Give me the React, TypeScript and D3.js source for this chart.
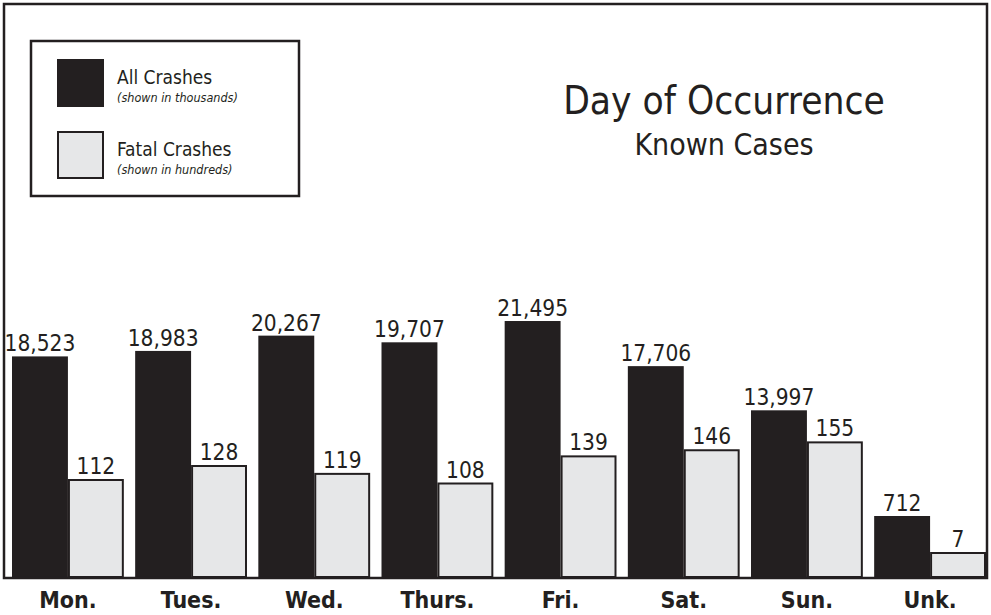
import React from 'react';
import * as d3 from 'd3';

const days = ['Mon.', 'Tues.', 'Wed.', 'Thurs.', 'Fri.', 'Sat.', 'Sun.', 'Unk.'];
const allCrashes = [18523, 18983, 20267, 19707, 21495, 17706, 13997, 712];
const fatalCrashes = [112, 128, 119, 108, 139, 146, 155, 7];
const seriesKeys = ['all', 'fatal'];
const legendLabels = ['All Crashes', 'Fatal Crashes'];
const legendNotes = ['(shown in thousands)', '(shown in hundreds)'];
const titleText = 'Day of Occurrence';
const subtitleText = 'Known Cases';

const W = 991;
const H = 615;
const BASE = 577;
const INK = '#231f20';
const LIGHT = '#e6e7e8';
const FONT = "'DejaVu Sans Condensed', 'DejaVu Sans', sans-serif";
const MIN_ALL = 61;
const MIN_FATAL = 25;

export default function App() {
  const x0 = d3.scaleBand<string>().domain(days).range([12, 986]).paddingInner(0.092).paddingOuter(0);
  const x1 = d3.scaleBand<string>().domain(seriesKeys).range([0, x0.bandwidth()]).padding(0);
  const yAll = d3.scaleLinear().domain([0, 22000]).range([BASE, BASE - 262]);
  const yFatal = d3.scaleLinear().domain([0, 160]).range([BASE, BASE - 140]);
  const fmt = d3.format(',');
  const bw = x1.bandwidth();
  const cond = { fontStretch: 'condensed' as const };

  return (
    <svg width={W} height={H} style={{ position: 'absolute', left: 0, top: 0, background: '#fff' }} fontFamily={FONT}>
      <rect x={0} y={0} width={W} height={H} fill="#fff" />
      {days.map((d, i) => {
        const gx = x0(d)!;
        const ax = gx + x1('all')!;
        const fx = gx + x1('fatal')!;
        const aTop = Math.min(yAll(allCrashes[i]), BASE - MIN_ALL);
        const fTop = Math.min(yFatal(fatalCrashes[i]), BASE - MIN_FATAL);
        return (
          <g key={d}>
            <rect x={ax} y={aTop} width={bw} height={BASE - aTop} fill={INK} />
            <rect x={fx + 1} y={fTop + 1} width={bw - 2} height={BASE - fTop - 1} fill={LIGHT} stroke={INK} strokeWidth={2} />
            <text x={ax + bw / 2} y={aTop - 5} textAnchor="middle" fontSize={22.5} fill={INK} style={cond}>{fmt(allCrashes[i])}</text>
            <text x={fx + bw / 2} y={fTop - 5} textAnchor="middle" fontSize={22.5} fill={INK} style={cond}>{fmt(fatalCrashes[i])}</text>
            <text x={gx + x0.bandwidth() / 2} y={608} textAnchor="middle" fontSize={23} fontWeight="bold" fill={INK} style={cond}>{d}</text>
          </g>
        );
      })}
      <rect x={4} y={4} width={983} height={574} fill="none" stroke={INK} strokeWidth={2.5} />
      <rect x={31} y={41} width={268} height={155} fill="none" stroke={INK} strokeWidth={2.5} />
      {seriesKeys.map((k, i) => (
        <g key={k} transform={`translate(0, ${i * 72})`}>
          {i === 0 ? (
            <rect x={57} y={59} width={47} height={48} fill={INK} />
          ) : (
            <rect x={58} y={60} width={45} height={46} fill={LIGHT} stroke={INK} strokeWidth={2} />
          )}
          <text x={117} y={84} fontSize={19} fill={INK} style={cond}>{legendLabels[i]}</text>
          <text x={117} y={102} fontSize={12.5} fontStyle="italic" fill={INK} style={cond}>{legendNotes[i]}</text>
        </g>
      ))}
      <text x={724} y={114} textAnchor="middle" fontSize={38.5} fill={INK} style={cond}>{titleText}</text>
      <text x={724} y={155} textAnchor="middle" fontSize={30} fill={INK} style={cond}>{subtitleText}</text>
    </svg>
  );
}
